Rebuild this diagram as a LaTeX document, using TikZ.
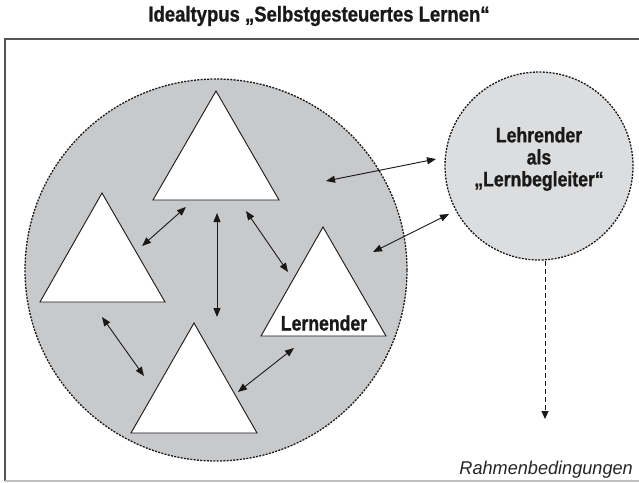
\documentclass[tikz,border=0pt]{standalone}
\usepackage{fontspec}
\setmainfont{Liberation Sans}
\newfontfamily\condbold{Liberation Sans Bold}[FakeStretch=0.84,FakeBold=1]
\newfontfamily\titlebold{Liberation Sans Bold}[FakeStretch=0.86,FakeBold=1]
\newfontfamily\condital{Liberation Sans Italic}[FakeStretch=0.98]
\usetikzlibrary{arrows.meta}
\definecolor{framecol}{HTML}{555555}
\definecolor{groupfill}{HTML}{C8C9CB}
\definecolor{teachfill}{HTML}{DCDDDF}
\tikzset{
  dotborder/.style={draw=black!90, line width=1.3pt, dash pattern=on 2pt off 1.3pt},
  learner/.style={draw=black!90, fill=white, line width=0.9pt, line join=miter},
  link/.style={black!90, line width=0.9pt, {Triangle[length=9pt,width=7pt]}-{Triangle[length=9pt,width=7pt]}},
  labeltext/.style={font=\condbold\fontsize{21}{22}\selectfont, text=black!90, align=center, inner sep=0pt},
}
\begin{document}
\begin{tikzpicture}[x=1pt,y=-1pt]
\useasboundingbox (0,0) rectangle (639,482);
% frame
\draw[framecol, line width=1.4pt] (639,39) -- (5,39) -- (5,481);
\draw[black!25, line width=1.4pt] (5,481) -- (639,481);
% title
\node[labeltext, font=\titlebold\fontsize{21.5}{22}\selectfont] (title) at (319,16) {Idealtypus „Selbstgesteuertes Lernen“};
% circles
\node[circle, fill=groupfill, dotborder, minimum size=382pt, inner sep=0pt] (group) at (216,270) {};
\node[circle, fill=teachfill, dotborder, minimum size=188pt, inner sep=0pt] (teacher) at (539,166) {};
\node[labeltext] (teachlabel) at (539,159) {Lehrender\\als\\„Lernbegleiter“};
% triangles
\draw[learner] (216,91) -- (279,200) -- (153,200) -- cycle;
\draw[learner] (102,193) -- (165,302) -- (40,302) -- cycle;
\draw[learner] (194,323) -- (257,433) -- (131,433) -- cycle;
\draw[learner] (323,227) -- (386,336) -- (261,336) -- cycle;
\node[labeltext] (learnlabel) at (324,323) {Lernender};
% arrow end points
\coordinate (a1s) at (186,207); \coordinate (a1e) at (142,246);
\coordinate (a2s) at (217,213); \coordinate (a2e) at (217,317);
\coordinate (a3s) at (246,211); \coordinate (a3e) at (288,272);
\coordinate (a4s) at (102,317); \coordinate (a4e) at (144,376);
\coordinate (a5s) at (238,392); \coordinate (a5e) at (294,348);
\coordinate (a6s) at (326,181); \coordinate (a6e) at (436,159);
\coordinate (a7s) at (373,252); \coordinate (a7e) at (449,214);
\draw[link] (a1s) -- (a1e);
\draw[link] (a2s) -- (a2e);
\draw[link] (a3s) -- (a3e);
\draw[link] (a4s) -- (a4e);
\draw[link] (a5s) -- (a5e);
\draw[link] (a6s) -- (a6e);
\draw[link] (a7s) -- (a7e);
% dashed arrow
\coordinate (cond) at (545,419);
\draw[black!90, line width=1pt, dash pattern=on 5pt off 3pt, -{Triangle[length=8pt,width=7pt]}] (545,261) -- (cond);
% frame conditions
\node[anchor=base east, font=\condital\fontsize{18.5}{20}\selectfont, text=black!85, inner sep=0pt] (rahmen) at (633,474) {Rahmenbedingungen};
\end{tikzpicture}
\end{document}
